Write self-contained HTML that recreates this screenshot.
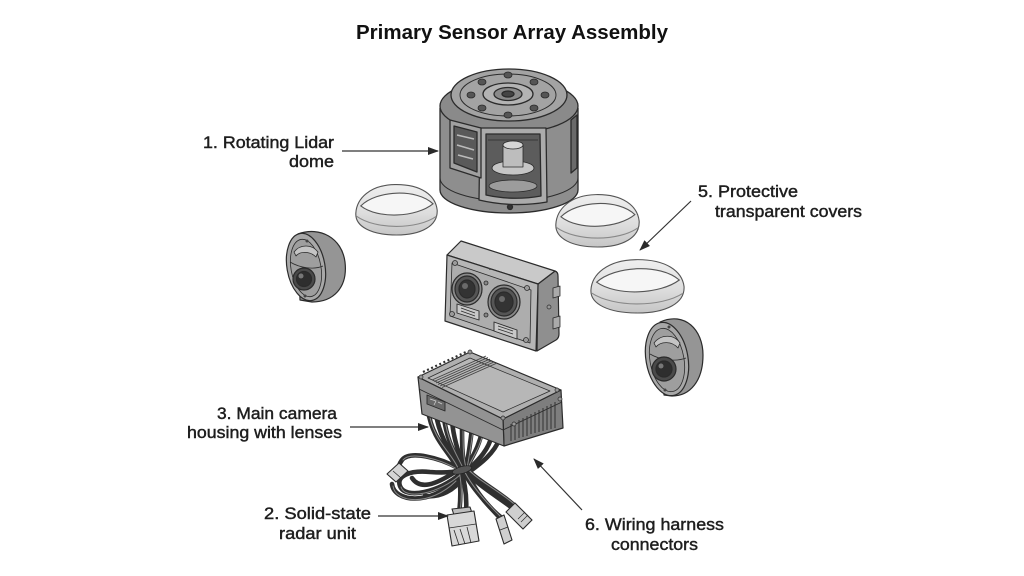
<!DOCTYPE html>
<html><head><meta charset="utf-8">
<style>
html,body{margin:0;padding:0;background:#fff;}
svg{display:block;}
.t{font-family:"Liberation Sans",Arial,sans-serif;font-size:17px;fill:#1e1e1e;stroke:#1e1e1e;stroke-width:0.45px;}
.ti{font-family:"Liberation Sans",Arial,sans-serif;font-size:20px;font-weight:bold;fill:#111;}
</style></head><body>
<svg width="1024" height="576" viewBox="0 0 1024 576" xmlns="http://www.w3.org/2000/svg">
<defs>
<marker id="ah" markerWidth="11" markerHeight="8" refX="10" refY="4" orient="auto" markerUnits="userSpaceOnUse">
<path d="M0,0 L11,4 L0,8 Z" fill="#2a2a2a"/>
</marker>
<linearGradient id="cov" x1="0" y1="0" x2="0" y2="1">
<stop offset="0" stop-color="#efefef"/><stop offset="0.55" stop-color="#dedede"/><stop offset="1" stop-color="#c6c6c6"/>
</linearGradient>
</defs>
<rect width="1024" height="576" fill="#fff"/>

<!-- Title -->
<text class="ti" x="356" y="39" textLength="312" lengthAdjust="spacingAndGlyphs">Primary Sensor Array Assembly</text>

<!-- ===== Lidar dome ===== -->
<g stroke="#2b2b2b" stroke-width="1.3" stroke-linejoin="round">
<path d="M440,108 L440,190 A69,23 0 0 0 578,190 L578,108 Z" fill="#8e8e8e"/>
<path d="M440,178 A69,23 0 0 0 578,178" fill="none" stroke-width="1"/>
<ellipse cx="509" cy="106" rx="69" ry="27" fill="#8a8a8a"/>
<ellipse cx="509" cy="95" rx="58" ry="26" fill="#a3a3a3"/>
<ellipse cx="508" cy="95" rx="48" ry="21" fill="none" stroke-width="0.9"/>
<ellipse cx="508" cy="94" rx="25" ry="11" fill="#b3b3b3"/>
<ellipse cx="508" cy="94" rx="14" ry="6.5" fill="#8a8a8a"/>
<ellipse cx="508" cy="94" rx="6" ry="3" fill="#444"/>
<g fill="#555" stroke-width="0.8">
<ellipse cx="545" cy="95" rx="4" ry="3"/><ellipse cx="534" cy="108" rx="4" ry="3"/>
<ellipse cx="508" cy="115" rx="4" ry="3"/><ellipse cx="482" cy="108" rx="4" ry="3"/>
<ellipse cx="471" cy="95" rx="4" ry="3"/><ellipse cx="482" cy="82" rx="4" ry="3"/>
<ellipse cx="508" cy="75" rx="4" ry="3"/><ellipse cx="534" cy="82" rx="4" ry="3"/>
</g>
<!-- front window -->
<path d="M480,128 L546,128 L547,202 Q513,208 479,200 Z" fill="#ababab"/>
<path d="M486,134 L540,134 L541,196 Q513,201 486,195 Z" fill="#5c5c5c"/>
<ellipse cx="513" cy="186" rx="24" ry="6" fill="#9c9c9c" stroke-width="0.8"/>
<ellipse cx="513" cy="168" rx="21" ry="7" fill="#c6c6c6" stroke-width="0.8"/>
<rect x="503" y="145" width="20" height="22" fill="#bdbdbd" stroke-width="0.8"/>
<ellipse cx="513" cy="145" rx="10" ry="4" fill="#d6d6d6" stroke-width="0.8"/>
<path d="M488,140 L538,140" stroke-width="0.8"/>
<!-- left window -->
<path d="M450,120 L481,128 L481,178 L450,168 Z" fill="#a0a0a0"/>
<path d="M454,126 L477,132 L477,172 L454,163 Z" fill="#5a5a5a"/>
<path d="M457,135 L474,139 M457,145 L474,150 M458,155 L473,159" stroke="#bbb" stroke-width="1.5"/>
<!-- right slit -->
<path d="M571,120 L577,115 L577,168 L571,173 Z" fill="#6a6a6a"/>
<circle cx="510" cy="207" r="2.5" fill="#333"/>
</g>

<!-- ===== Covers ===== -->
<g stroke="#555" stroke-width="1.1">
<g transform="translate(355,183) scale(0.83,0.52)">
<path vector-effect="non-scaling-stroke" d="M1,58 C2,30 18,4 48,3 C80,2 97,24 99,52 C100,82 80,100 50,100 C20,100 0,84 1,58 Z" fill="url(#cov)"/>
<path vector-effect="non-scaling-stroke" d="M7,44 C26,14 74,10 94,40 C74,66 28,70 7,44 Z" fill="#f6f6f6"/>
<path vector-effect="non-scaling-stroke" d="M2,64 C25,90 75,90 98,64" fill="none" stroke="#888"/>
</g>
<g transform="translate(555,193) scale(0.85,0.54)">
<path vector-effect="non-scaling-stroke" d="M1,58 C2,30 18,4 48,3 C80,2 97,24 99,52 C100,82 80,100 50,100 C20,100 0,84 1,58 Z" fill="url(#cov)"/>
<path vector-effect="non-scaling-stroke" d="M7,44 C26,14 74,10 94,40 C74,66 28,70 7,44 Z" fill="#f6f6f6"/>
<path vector-effect="non-scaling-stroke" d="M2,64 C25,90 75,90 98,64" fill="none" stroke="#888"/>
</g>
<g transform="translate(590,258) scale(0.95,0.55)">
<path vector-effect="non-scaling-stroke" d="M1,58 C2,30 18,4 48,3 C80,2 97,24 99,52 C100,82 80,100 50,100 C20,100 0,84 1,58 Z" fill="url(#cov)"/>
<path vector-effect="non-scaling-stroke" d="M7,44 C26,14 74,10 94,40 C74,66 28,70 7,44 Z" fill="#f6f6f6"/>
<path vector-effect="non-scaling-stroke" d="M2,64 C25,90 75,90 98,64" fill="none" stroke="#888"/>
</g>
</g>

<!-- ===== Left small camera ===== -->
<g stroke="#2b2b2b" stroke-width="1.2" stroke-linejoin="round">
<path d="M298,234 C320,226 342,238 345,262 C348,288 333,302 312,302 L300,300 Z" fill="#959595"/>
<ellipse cx="306" cy="267" rx="19" ry="34" transform="rotate(-10 306 267)" fill="#a8a8a8"/>
<ellipse cx="306" cy="268" rx="15" ry="29" transform="rotate(-10 306 268)" fill="#9e9e9e" stroke-width="0.8"/>
<path d="M294,252 C300,244 312,244 318,252 L316,257 C310,251 300,251 296,256 Z" fill="#c4c4c4" stroke-width="0.8"/>
<path d="M290,262 C300,268 314,270 323,266" fill="none" stroke-width="0.8"/>
<circle cx="304" cy="279" r="11" fill="#4a4a4a"/>
<circle cx="304" cy="279" r="7.5" fill="#2e2e2e"/>
<circle cx="301" cy="276" r="2.5" fill="#777" stroke="none"/>
<circle cx="307" cy="241" r="1.5" fill="#444" stroke="none"/>
<circle cx="305" cy="296" r="1.5" fill="#444" stroke="none"/>
</g>

<!-- ===== Right small camera ===== -->
<g stroke="#2b2b2b" stroke-width="1.2" stroke-linejoin="round">
<path d="M660,322 C685,311 703,330 703,355 C703,381 690,396 672,396 L664,395 Z" fill="#959595"/>
<ellipse cx="667" cy="359" rx="21" ry="37" transform="rotate(-10 667 359)" fill="#a8a8a8"/>
<ellipse cx="667" cy="360" rx="17" ry="32" transform="rotate(-10 667 360)" fill="#9e9e9e" stroke-width="0.8"/>
<path d="M654,343 C661,334 674,334 680,343 L678,348 C672,341 661,341 656,347 Z" fill="#c4c4c4" stroke-width="0.8"/>
<path d="M650,354 C660,360 676,362 686,358" fill="none" stroke-width="0.8"/>
<circle cx="664" cy="369" r="12" fill="#4a4a4a"/>
<circle cx="664" cy="369" r="8" fill="#2e2e2e"/>
<circle cx="661" cy="366" r="2.5" fill="#777" stroke="none"/>
<circle cx="669" cy="327" r="1.5" fill="#444" stroke="none"/>
<circle cx="665" cy="390" r="1.5" fill="#444" stroke="none"/>
</g>

<!-- ===== Dual-lens camera housing ===== -->
<g stroke="#2b2b2b" stroke-width="1.2" stroke-linejoin="round">
<path d="M538,284 L555,271 Q558,272 558,276 L559,334 Q559,338 556,340 L537,351 Z" fill="#8f8f8f"/>
<path d="M447,255 L461,241 L555,271 L538,284 Z" fill="#c9c9c9"/>
<path d="M447,255 L538,284 L536,351 L445,321 Z" fill="#b6b6b6"/>
<path d="M452,263 L531,290 L530,343 L450,316 Z" fill="#adadad" stroke-width="0.8"/>
<ellipse cx="467" cy="289" rx="15" ry="16" fill="#8a8a8a"/>
<ellipse cx="467" cy="289" rx="12" ry="13" fill="#555"/>
<ellipse cx="467" cy="289" rx="8" ry="9" fill="#333"/>
<ellipse cx="465" cy="286" rx="3" ry="3" fill="#6a6a6a" stroke="none"/>
<ellipse cx="504" cy="302" rx="16" ry="17" fill="#8a8a8a"/>
<ellipse cx="504" cy="302" rx="13" ry="14" fill="#555"/>
<ellipse cx="504" cy="302" rx="9" ry="10" fill="#333"/>
<ellipse cx="502" cy="299" rx="3" ry="3" fill="#6a6a6a" stroke="none"/>
<circle cx="486" cy="283" r="2" fill="#888" stroke-width="0.8"/>
<circle cx="486" cy="315" r="2" fill="#888" stroke-width="0.8"/>
<circle cx="490" cy="269" r="1" fill="#444" stroke="none"/>
<path d="M457,304 L479,311 L479,320 L457,313 Z" fill="#c8c8c8" stroke-width="0.9"/>
<path d="M461,308 L475,313 M461,311 L475,316" stroke-width="0.7"/>
<path d="M494,322 L517,330 L517,339 L494,331 Z" fill="#c8c8c8" stroke-width="0.9"/>
<path d="M498,326 L513,331 M498,329 L513,334" stroke-width="0.7"/>
<circle cx="455" cy="263" r="2.5" fill="#9a9a9a" stroke-width="0.8"/>
<circle cx="527" cy="288" r="2.5" fill="#9a9a9a" stroke-width="0.8"/>
<circle cx="452" cy="314" r="2.5" fill="#9a9a9a" stroke-width="0.8"/>
<circle cx="526" cy="340" r="2.5" fill="#9a9a9a" stroke-width="0.8"/>
<path d="M553,288 L560,286 L560,296 L553,298 Z" fill="#aaa" stroke-width="0.8"/>
<path d="M553,318 L560,316 L560,327 L553,329 Z" fill="#aaa" stroke-width="0.8"/>
<circle cx="549" cy="307" r="2" fill="#999" stroke-width="0.7"/>
</g>

<!-- ===== Wires ===== -->
<g fill="none" stroke-linecap="round">
<g stroke="#2f2f2f" stroke-width="4.6">
<path d="M428,410 C432,440 450,452 457,468 C461,480 461,498 459,514"/>
<path d="M436,414 C440,440 453,455 460,468 C465,482 467,498 466,512"/>
<path d="M444,418 C447,442 456,455 462,468 C469,485 488,505 500,518"/>
<path d="M452,421 C454,442 460,456 464,468"/>
<path d="M462,424 C462,444 462,456 465,468 C472,482 494,494 511,507"/>
<path d="M472,428 C470,446 468,458 466,468 C476,480 500,492 515,506"/>
<path d="M482,431 C479,448 471,458 467,468 C470,484 485,505 503,519"/>
<path d="M492,435 C488,452 476,462 468,470"/>
<path d="M500,438 C494,454 480,464 469,472"/>
<path d="M458,468 C440,458 410,450 402,460 C397,467 399,470 402,470"/>
<path d="M460,474 C440,492 405,500 400,486 C396,476 410,470 430,472 C445,473 455,472 460,470"/>
<path d="M456,480 C430,506 394,502 392,484"/>
<path d="M455,472 C435,485 420,490 412,478"/>
<path d="M462,478 C455,490 440,498 425,496"/>
</g>
<g stroke="#8a8a8a" stroke-width="1">
<path d="M429,412 C433,440 451,452 458,468 C462,480 462,498 460,512"/>
<path d="M445,420 C448,442 457,455 463,468 C470,485 489,505 500,516"/>
<path d="M463,426 C463,444 463,456 466,468"/>
<path d="M473,430 C471,446 469,458 467,468 C477,480 501,492 514,504"/>
<path d="M483,433 C480,448 472,458 468,468"/>
<path d="M460,475 C440,493 405,501 401,487"/>
<path d="M457,469 C440,459 410,451 403,460"/>
<path d="M456,481 C430,507 395,503 393,486"/>
</g>
</g>
<ellipse cx="462" cy="470" rx="10" ry="3.5" transform="rotate(-15 462 470)" fill="#555" stroke="#222" stroke-width="0.8"/>

<!-- connectors -->
<g stroke="#2b2b2b" stroke-width="1.1" stroke-linejoin="round">
<path d="M452,509 L470,507 L472,513 L454,515 Z" fill="#bdbdbd"/>
<path d="M447,515 L474,511 L479,541 L452,546 Z" fill="#d8d8d8"/>
<path d="M449,528 L476,524 M454,530 L459,545 M460,529 L465,544 M467,527 L471,543" stroke-width="0.8"/>
<path d="M496,519 L504,515 L512,540 L504,544 Z" fill="#cfcfcf"/>
<path d="M500,530 L508,527" stroke-width="0.7"/>
<path d="M506,512 L515,503 L532,520 L523,529 Z" fill="#cfcfcf"/>
<path d="M518,519 L525,512 M521,522 L528,515" stroke-width="0.7"/>
<path d="M387,474 L399,463 L408,471 L396,482 Z" fill="#d5d5d5"/>
<path d="M393,471 L401,478" stroke-width="0.7"/>
</g>

<!-- ===== ECU box ===== -->
<g stroke="#2b2b2b" stroke-width="1.2" stroke-linejoin="round">
<path d="M503,419 L561,390 L563,428 L504,446 Z" fill="#7e7e7e"/>
<path d="M418,377 L503,419 L504,446 L422,414 Z" fill="#939393"/>
<path d="M419,389 L503,430" fill="none" stroke-width="0.9"/>
<path d="M503,430 L562,402" fill="none" stroke-width="0.9"/>
<path d="M418,377 L470,352 L561,390 L503,419 Z" fill="#afafaf"/>
<path d="M428,378 L470,358 L550,391 L503,412 Z" fill="#b7b7b7" stroke-width="0.7"/>
<g stroke="#444" stroke-width="0.9">
<path d="M432,380 L486,356"/><path d="M434,381.5 L488,357.5"/><path d="M436,383 L490,359"/>
<path d="M438,384.5 L492,360.5"/><path d="M440,386 L494,362"/><path d="M442,387.5 L496,363.5"/>
</g>
<path d="M423,372 L466,352" stroke="#333" stroke-width="2.2" stroke-dasharray="2 2.5" fill="none"/>
<g stroke="#333" stroke-width="1">
<path d="M511,424 L511,441"/><path d="M515,422 L515,440"/><path d="M519,420 L519,438"/>
<path d="M523,418 L523,437"/><path d="M527,416 L527,436"/><path d="M531,414 L531,434"/>
<path d="M535,412 L535,433"/><path d="M539,410 L539,432"/><path d="M543,408 L543,431"/>
<path d="M547,406 L547,430"/><path d="M551,404 L551,429"/><path d="M555,402 L555,428"/>
</g>
<path d="M427,395 L445,402 L445,411 L427,404 Z" fill="#6a6a6a" stroke-width="0.9"/>
<path d="M430,399 L436,401 L434,405 M438,402 L442,404" stroke="#ccc" stroke-width="0.8" fill="none"/>
<circle cx="421" cy="377" r="2" fill="#999" stroke-width="0.7"/>
<circle cx="470" cy="352" r="2" fill="#999" stroke-width="0.7"/>
<circle cx="557" cy="390" r="2" fill="#999" stroke-width="0.7"/>
<circle cx="503" cy="418" r="2" fill="#999" stroke-width="0.7"/>
<circle cx="514" cy="424" r="2" fill="#999" stroke-width="0.7"/>
<circle cx="560" cy="399" r="2" fill="#999" stroke-width="0.7"/>
</g>

<!-- ===== Arrows ===== -->
<g stroke="#333" stroke-width="1.2" fill="none" marker-end="url(#ah)">
<path d="M342,151 L438,151"/>
<path d="M691,201 L640,250"/>
<path d="M350,427 L428,427"/>
<path d="M378,516 L448,516"/>
<path d="M582,510 L534,459"/>
</g>

<!-- ===== Labels ===== -->
<text class="t" x="203" y="148" textLength="131" lengthAdjust="spacingAndGlyphs">1. Rotating Lidar</text>
<text class="t" x="289" y="167" textLength="45" lengthAdjust="spacingAndGlyphs">dome</text>
<text class="t" x="698" y="197" textLength="100" lengthAdjust="spacingAndGlyphs">5. Protective</text>
<text class="t" x="715" y="217" textLength="147" lengthAdjust="spacingAndGlyphs">transparent covers</text>
<text class="t" x="217" y="419" textLength="120" lengthAdjust="spacingAndGlyphs">3. Main camera</text>
<text class="t" x="187" y="438" textLength="155" lengthAdjust="spacingAndGlyphs">housing with lenses</text>
<text class="t" x="264" y="519" textLength="107" lengthAdjust="spacingAndGlyphs">2. Solid-state</text>
<text class="t" x="279" y="539" textLength="77" lengthAdjust="spacingAndGlyphs">radar unit</text>
<text class="t" x="585" y="530" textLength="139" lengthAdjust="spacingAndGlyphs">6. Wiring harness</text>
<text class="t" x="611" y="550" textLength="87" lengthAdjust="spacingAndGlyphs">connectors</text>
</svg>
</body></html>
